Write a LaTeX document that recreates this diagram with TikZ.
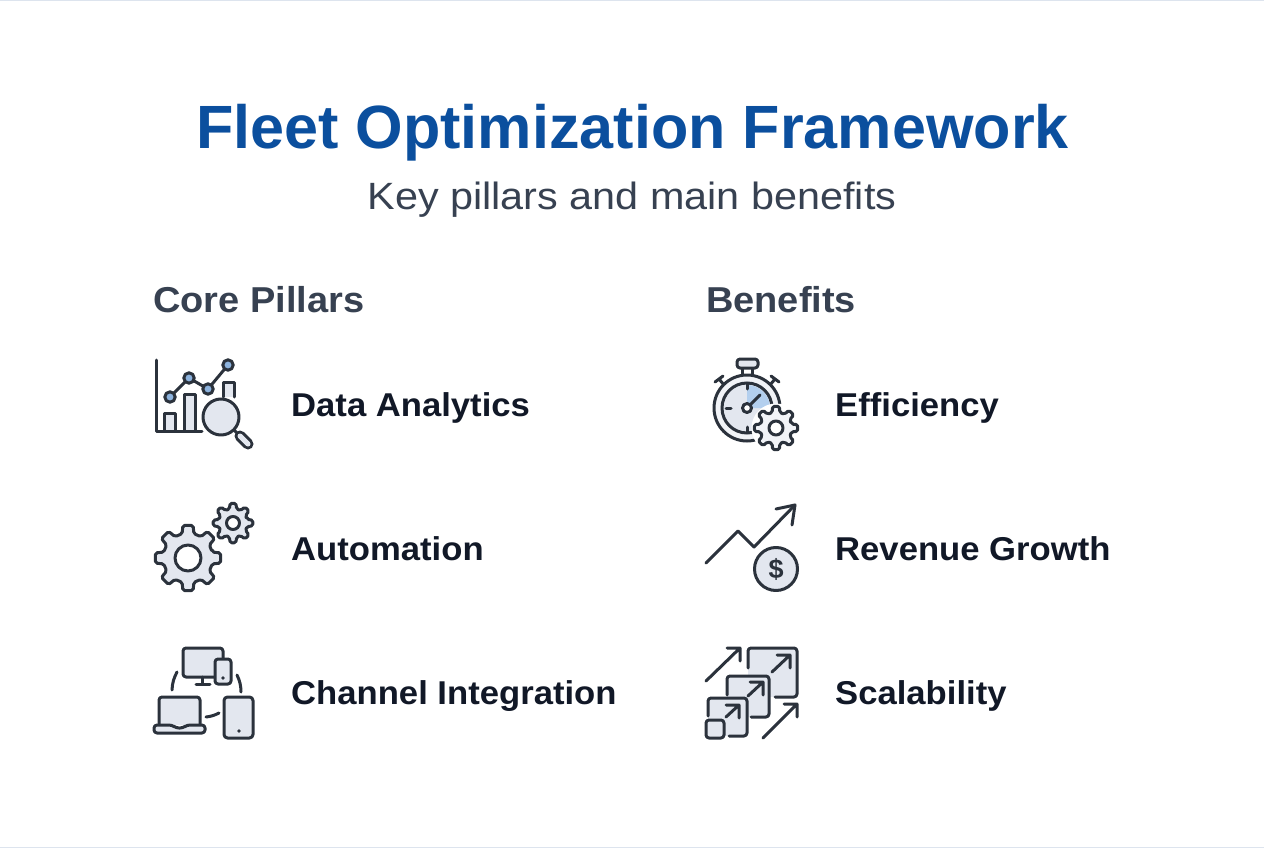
\documentclass[tikz,border=0pt]{standalone}
\usepackage{fontspec}
\setmainfont{Liberation Sans}
\newfontfamily\subfam[FakeStretch=1.088]{Liberation Sans}
\newfontfamily\headfam[FakeStretch=1.055]{Liberation Sans}
\newfontfamily\labelfam[FakeStretch=1.05]{Liberation Sans}
\usetikzlibrary{calc}
\definecolor{ink}{HTML}{2B323C}
\definecolor{pale}{HTML}{E3E7EF}
\definecolor{dotblue}{HTML}{8DB3DE}
\definecolor{wedge}{HTML}{B3CFEE}
\definecolor{titleblue}{HTML}{0B4F9E}
\definecolor{subgray}{HTML}{374151}
\definecolor{labelink}{HTML}{111827}
\definecolor{edge}{HTML}{DDE4EE}
\tikzset{
  icnline/.style={draw=ink,line width=3pt,line cap=round,line join=round},
  solid part/.style={icnline,fill=pale},
  titletext/.style={anchor=base,text=titleblue,font=\fontsize{61.1}{61}\selectfont\bfseries,inner sep=0pt},
  subtext/.style={anchor=base,text=subgray,font=\subfam\fontsize{38}{38}\selectfont,inner sep=0pt},
  headtext/.style={anchor=base west,text=subgray,font=\headfam\fontsize{36}{36}\selectfont\bfseries,inner sep=0pt},
  labeltext/.style={anchor=base west,text=labelink,font=\labelfam\fontsize{33}{33}\selectfont\bfseries,inner sep=0pt},
}
% centre x, centre y, outer radius, root radius, hole radius, teeth
\newcommand{\gearicon}[7][pale]{%
  \pgfmathsetmacro{\stepang}{360/#7}%
  \path[icnline,fill=#1,rounded corners=1.8pt]
    ($(#2,#3)+(-0.30*\stepang:#5)$)
    \foreach \k in {1,...,#7}{
      -- ($(#2,#3)+({(\k-1)*\stepang-0.20*\stepang}:#4)$)
      -- ($(#2,#3)+({(\k-1)*\stepang+0.20*\stepang}:#4)$)
      -- ($(#2,#3)+({(\k-1)*\stepang+0.30*\stepang}:#5)$)
      -- ($(#2,#3)+({(\k-1)*\stepang+0.70*\stepang}:#5)$)
    } -- cycle;
  \path[icnline,fill=white] (#2,#3) circle[radius=#6];
}
\begin{document}
\begin{tikzpicture}[x=1pt,y=-1pt]
\useasboundingbox (0,0) rectangle (1264,848);
\fill[white] (0,0) rectangle (1264,848);
\fill[edge] (0,0) rectangle (1264,1.5);
\fill[edge] (0,846.5) rectangle (1264,848);

\node[titletext] (title) at (632.5,149) {Fleet Optimization Framework};
\node[subtext] (subtitle) at (632,209) {Key pillars and main benefits};
\node[headtext] (corehead) at (153,312) {Core Pillars};
\node[headtext] (benefitshead) at (706,312) {Benefits};
\node[labeltext] (analytics) at (291,416) {Data Analytics};
\node[labeltext] (automation) at (291,560) {Automation};
\node[labeltext] (integration) at (291,704) {Channel Integration};
\node[labeltext] (efficiency) at (835,416) {Efficiency};
\node[labeltext] (revenue) at (835,560) {Revenue Growth};
\node[labeltext] (scalability) at (835,704) {Scalability};

% Data analytics icon
\path[solid part] (164,431) -- (164,413) -- (175,413) -- (175,431);
\path[solid part] (184,431) -- (184,394) -- (195,394) -- (195,431);
\path[solid part] (223,397) -- (223,382) -- (234,382) -- (234,397);
\path[icnline] (156,360) -- (156,431) -- (202,431);
\path[icnline] (170,397) -- (189,378) -- (208,389) -- (228,365);
\foreach \p in {(170,397),(189,378),(208,389),(228,365)}
  \path[icnline,fill=dotblue] \p circle[radius=5.2];
\path[icnline] (233,429) -- (240,436);
\path[draw=ink,line width=11pt,line cap=round] (240,436) -- (248,444);
\path[draw=pale,line width=5pt,line cap=round] (240,436) -- (248,444);
\path[solid part] (221,417) circle[radius=18];

% Automation icon
\gearicon{188}{558}{33}{25}{13}{8}
\gearicon{233}{523}{20}{14.5}{6.5}{8}

% Channel integration icon
\path[solid part,rounded corners=3pt] (183,677) -- (183,648) -- (223,648) -- (223,677) -- cycle;
\path[icnline] (202,677) -- (202,684) (196,684) -- (210,684);
\path[solid part,rounded corners=3pt] (215,659) rectangle (231,684);
\fill[ink] (223,678) circle[radius=1.8];
\path[icnline] (177,672) to[bend right=12] (172,690);
\path[icnline] (237,675) to[bend left=12] (241,692);
\path[icnline] (206,717) to[bend right=10] (219,713);
\path[solid part,rounded corners=3pt] (159,725) -- (159,697) -- (200,697) -- (200,725);
\path[solid part,rounded corners=3pt] (154,725) -- (172,725) -- (176,728) -- (183,728) -- (187,725) -- (205,725) -- (205,733) -- (154,733) -- cycle;
\path[solid part,rounded corners=3.5pt] (224,697) rectangle (253,738);
\fill[ink] (239,731) circle[radius=1.8];

% Efficiency icon
\path[solid part] (742,368) -- (742,375) (752,375) -- (752,368);
\path[solid part,rounded corners=3pt] (737,359) rectangle (758,368);
\path[icnline] (715,382) -- (723,376) (719,379) -- (724,385);
\path[icnline] (771,376) -- (779,382) (775,379) -- (770,385);
\path[icnline,fill=pale!50!white] (747,408) circle[radius=33];
\path[draw=ink,fill=pale,line width=3pt] (747,408) circle[radius=25];
\fill[wedge] (747,408) -- (747,385) arc[start angle=-90,end angle=0,radius=23] -- cycle;
\path[icnline] (747,384) -- (747,389) (726,408) -- (731,408) (747,427) -- (747,432);
\path[icnline] (747,408) -- (760,395);
\path[icnline,fill=white] (747,408) circle[radius=4.5];
\fill[white] (776,428) circle[radius=24.5];
\gearicon[pale!50!white]{776}{428}{22}{16}{7}{8}

% Revenue growth icon
\path[icnline] (706,563) -- (738,531) -- (754,547) -- (795,505);
\path[icnline] (776,509) -- (795,505) -- (792,525);
\path[solid part] (776,569) circle[radius=21.5];
\node[inner sep=0pt,text=ink,font=\fontsize{27}{27}\selectfont\bfseries] (dollar) at (776,569) {\$};

% Scalability icon
\path[fill=pale] (748,648) rectangle (797,697);
\path[icnline,rounded corners=3pt] (748,668) -- (748,648) -- (797,648) -- (797,697) -- (775,697);
\path[fill=pale] (727,676) rectangle (769,717);
\path[icnline,rounded corners=3pt] (727,695) -- (727,676) -- (769,676) -- (769,717) -- (751,717);
\path[fill=pale] (708,698) rectangle (747,736);
\path[icnline,rounded corners=3pt] (708,716) -- (708,698) -- (747,698) -- (747,736) -- (729,736);
\path[solid part,rounded corners=3pt] (706,720) rectangle (724,738);
\foreach \a/\b/\c/\d in {772/672/790/655,748/696/763/682,726/717/739/705,706/681/740/648,763/738/797/704}{
  \path[icnline] (\a,\b) -- (\c,\d) (\c-13,\d) -- (\c,\d) -- (\c,\d+13);
}
\end{tikzpicture}
\end{document}
